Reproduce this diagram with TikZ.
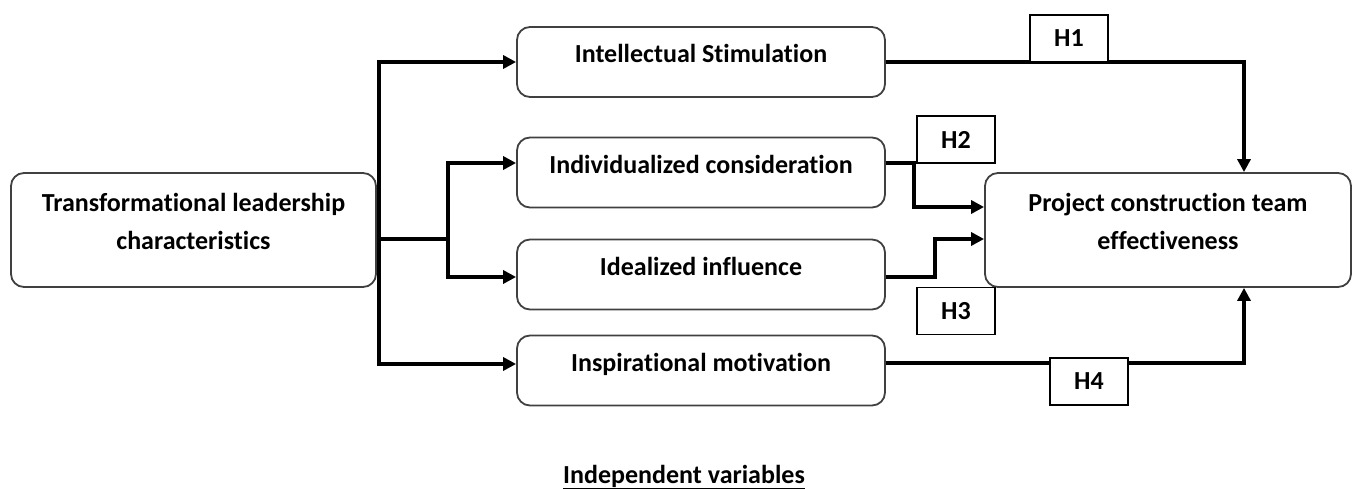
\documentclass[tikz,border=0pt]{standalone}
\usepackage{fontspec}
\setmainfont{Carlito}[Ligatures=NoCommon]
\usetikzlibrary{arrows.meta,calc}
\begin{document}
\begin{tikzpicture}[x=1pt,y=-1pt,
  every node/.style={font=\fontsize{26}{38}\selectfont\bfseries},
  rbox/.style={draw=black!75, line width=1.8pt, rounded corners=13pt, inner sep=0pt},
  sbox/.style={rbox, minimum width=368pt, minimum height=70pt, text height=17pt, text depth=15pt},
  bbox/.style={rbox, minimum height=114pt},
  hbox/.style={draw=black, line width=1.4pt, minimum width=78pt, minimum height=47pt, inner sep=0pt, fill=white},
  conn/.style={line width=3.4pt},
  arr/.style={conn, -{Triangle[length=13pt,width=13pt]}},
]
\useasboundingbox (0,0) rectangle (1352,489);
\node[bbox, minimum width=365pt, label={[yshift=9pt, align=center]center:Transformational leadership\\characteristics}] (tl) at (193.5,230) {};
\node[bbox, minimum width=366pt, label={[yshift=9pt, align=center]center:Project construction team\\effectiveness}] (pce) at (1168,230) {};
\node[sbox] (is) at (701,62) {Intellectual Stimulation};
\node[sbox] (ic) at (701,172.5) {Individualized consideration};
\node[sbox] (ii) at (701,274.5) {Idealized influence};
\node[sbox] (im) at (701,370.5) {Inspirational motivation};

\coordinate (trunk) at ([xshift=2pt,yshift=-9pt]tl.east);
\coordinate (split) at ([xshift=69pt]trunk);
\draw[arr] (trunk) |- (is.west);
\draw[arr] (trunk) |- ([yshift=6.5pt]im.west);
\draw[conn] (trunk) -- (split);
\draw[arr] (split) |- ([yshift=9.5pt]ic.west);
\draw[arr] (split) |- ([yshift=-2.5pt]ii.west);

\draw[arr] (is.east) -| ([xshift=76pt]pce.north);
\draw[arr] ([yshift=9.5pt]ic.east) -- ++(28,0) |- ([yshift=23pt]pce.west);
\draw[arr] ([yshift=-2.5pt]ii.east) -- ++(49,0) |- ([yshift=-9pt]pce.west);
\draw[arr] ([yshift=7.5pt]im.east) -| ([xshift=76pt]pce.south);

\node[hbox] (h1) at (1069,38.5) {H1};
\node[hbox] (h2) at (956,139.5) {H2};
\node[hbox] (h3) at (956,311) {H3};
\node[hbox] (h4) at (1089,381.5) {H4};

\node[anchor=base] (iv) at (684,483) {\underline{Independent variables}};
\end{tikzpicture}
\end{document}
